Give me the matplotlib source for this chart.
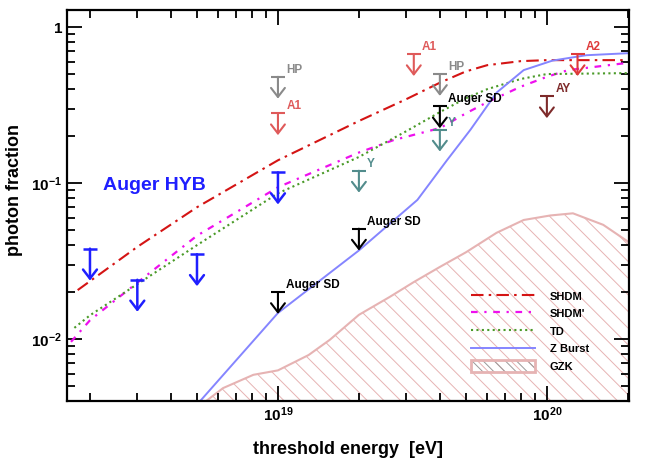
import matplotlib
matplotlib.use('Agg')
import matplotlib.pyplot as plt
from matplotlib.patches import Patch
from matplotlib.legend_handler import HandlerTuple
from matplotlib.ticker import FixedLocator, FixedFormatter, LogLocator, NullFormatter

plt.rcParams['font.family'] = ['Liberation Sans', 'DejaVu Sans']
plt.rcParams['font.weight'] = 'bold'
plt.rcParams['mathtext.fontset'] = 'custom'
plt.rcParams['mathtext.rm'] = 'Liberation Sans:bold'
plt.rcParams['mathtext.bf'] = 'Liberation Sans:bold'
plt.rcParams['mathtext.default'] = 'bf'
plt.rcParams['hatch.linewidth'] = 0.7

# model predictions (threshold energy [eV], photon fraction)
shdm_e = [1.8e18, 3e18, 5e18, 1e19, 2e19, 3e19, 4e19, 5e19, 6e19, 8e19, 1e20, 2e20]
shdm_f = [0.0206, 0.039, 0.070, 0.14, 0.25, 0.345, 0.44, 0.52, 0.57, 0.605, 0.614, 0.614]

shdm2_e = [1.7e18, 2e18, 3e18, 5e18, 1e19, 2e19, 2.7e19, 4e19, 5e19, 6e19, 8e19, 1e20, 1.2e20, 2e20]
shdm2_f = [0.0096, 0.0132, 0.0230, 0.046, 0.094, 0.157, 0.189, 0.225, 0.28, 0.33, 0.415, 0.48, 0.53, 0.59]

td_e = [1.75e18, 2e18, 3e18, 5e18, 1e19, 2e19, 3e19, 4e19, 5e19, 6e19, 8e19, 1e20, 2e20]
td_f = [0.0118, 0.0142, 0.0225, 0.040, 0.086, 0.147, 0.215, 0.285, 0.35, 0.40, 0.465, 0.50, 0.507]

zb_e = [5e18, 1e19, 2e19, 3.3e19, 4.25e19, 5.2e19, 6.5e19, 8.2e19, 1.05e20, 1.4e20, 2e20]
zb_f = [0.0038, 0.0147, 0.037, 0.078, 0.14, 0.22, 0.38, 0.53, 0.61, 0.66, 0.68]

gzk_e = [5.4e18, 6.25e18, 8.1e18, 1e19, 1.3e19, 1.56e19, 2e19, 2.6e19, 3.2e19, 4e19,
         5e19, 6.5e19, 8.2e19, 1.03e20, 1.25e20, 1.62e20, 2.05e20]
gzk_f = [0.0040, 0.00485, 0.0059, 0.0063, 0.0079, 0.0099, 0.0143, 0.0186, 0.0232, 0.029,
         0.036, 0.048, 0.058, 0.062, 0.064, 0.054, 0.041]

# upper limits
hyb_e = [2e18, 3e18, 5e18, 1e19]
hyb_f = [0.038, 0.024, 0.035, 0.117]
sd_e = [1e19, 2e19, 4e19]
sd_f = [0.020, 0.051, 0.31]
hp_e = [1e19, 4e19]
hp_f = [0.48, 0.50]
a1_e = [1e19, 3.2e19]
a1_f = [0.28, 0.67]
a2_e = [1.3e20]
a2_f = [0.67]
yk_e = [2e19, 4e19]
yk_f = [0.12, 0.22]
ay_e = [1e20]
ay_f = [0.36]

gzk_col = '#e6b3b3'


def upper_limit(ax, e, f, color, drop, label=None, lw=1.5):
    for x, v in zip(e, f):
        ax.plot([x], [v], marker='_', ms=9.5, mew=lw, color=color, zorder=5)
        ax.annotate('', xy=(x, v / 10 ** drop), xytext=(x, v),
                    arrowprops=dict(arrowstyle='->,head_length=0.65,head_width=0.5',
                                    color=color, lw=lw, shrinkA=0, shrinkB=0), zorder=5)
        if label:
            ax.annotate(label, xy=(x, v), xytext=(6, 5), textcoords='offset points',
                        color=color, fontsize=8.5, fontweight='bold', va='center', ha='left')


fig = plt.figure(figsize=(6.55, 4.59), dpi=100)
ax = fig.add_axes([0.1023, 0.1264, 0.858, 0.8516])

# GZK band
ax.fill_between(gzk_e, 1e-4, gzk_f, facecolor='none', edgecolor=gzk_col,
                hatch='\\\\', linewidth=0, zorder=1)
ax.plot(gzk_e, gzk_f, color=gzk_col, lw=1.5, zorder=1)

l_shdm, = ax.plot(shdm_e, shdm_f, color='#d41414', lw=1.5, ls=(0, (6, 2.5, 1.2, 2.5)), label='SHDM')
l_shdm2, = ax.plot(shdm2_e, shdm2_f, color='#ee10ee', lw=1.6, ls=(0, (3, 3, 1, 3)), label="SHDM'")
l_td, = ax.plot(td_e, td_f, color='#4a9a28', lw=1.5, ls=(0, (1, 1.6)), label='TD')
l_zb, = ax.plot(zb_e, zb_f, color='#8585ff', lw=1.4, label='Z Burst')

upper_limit(ax, hyb_e, hyb_f, '#1f1fff', 0.205, lw=1.8)
upper_limit(ax, sd_e, sd_f, 'black', 0.14, 'Auger SD')
upper_limit(ax, hp_e, hp_f, '#8a8a8a', 0.14, 'HP')
upper_limit(ax, a1_e, a1_f, '#df5a5a', 0.14, 'A1')
upper_limit(ax, a2_e, a2_f, '#df3a3a', 0.14, 'A2')
upper_limit(ax, yk_e, yk_f, '#528c8c', 0.14, 'Y')
upper_limit(ax, ay_e, ay_f, '#7d2a2a', 0.14, 'AY')

ax.text(0.064, 0.55, 'Auger HYB', transform=ax.transAxes, color='#1f1fff',
        fontsize=14, fontweight='bold', va='center', ha='left')

ax.set_xscale('log')
ax.set_yscale('log')
ax.set_xlim(1.643e18, 2.02e20)
ax.set_ylim(0.00401, 1.285)

ax.xaxis.set_major_locator(FixedLocator([1e19, 1e20]))
ax.xaxis.set_major_formatter(FixedFormatter(['$10^{19}$', '$10^{20}$']))
ax.yaxis.set_major_locator(FixedLocator([0.01, 0.1, 1]))
ax.yaxis.set_major_formatter(FixedFormatter(['$10^{-2}$', '$10^{-1}$', '1']))
for a in (ax.xaxis, ax.yaxis):
    a.set_minor_locator(LogLocator(base=10, subs=range(2, 10), numticks=20))
    a.set_minor_formatter(NullFormatter())

ax.tick_params(which='both', direction='in', top=True, right=True, labelsize=11, width=1.3)
ax.tick_params(which='major', length=11)
ax.tick_params(which='minor', length=5.5)
for s in ax.spines.values():
    s.set_linewidth(1.6)

ax.set_xlabel('threshold energy  [eV]', fontsize=13, fontweight='bold')
ax.set_ylabel('photon fraction', fontsize=13, fontweight='bold')
ax.xaxis.set_label_coords(0.5, -0.102)
ax.yaxis.set_label_coords(-0.078, 0.54)

gzk_handle = (Patch(facecolor='none', edgecolor='#999999', hatch='\\\\\\', linewidth=0),
              Patch(facecolor='none', edgecolor=gzk_col, linewidth=2))
ax.legend([l_shdm, l_shdm2, l_td, l_zb, gzk_handle], ['SHDM', "SHDM'", 'TD', 'Z Burst', 'GZK'],
          handler_map={tuple: HandlerTuple(ndivide=1, pad=0)},
          loc='center', bbox_to_anchor=(0.824, 0.179), frameon=False,
          prop={'size': 8, 'weight': 'bold'}, handlelength=5.8, handleheight=1.2,
          handletextpad=1.3, labelspacing=0.55, borderpad=0)

fig.savefig('out.png', dpi=100)
